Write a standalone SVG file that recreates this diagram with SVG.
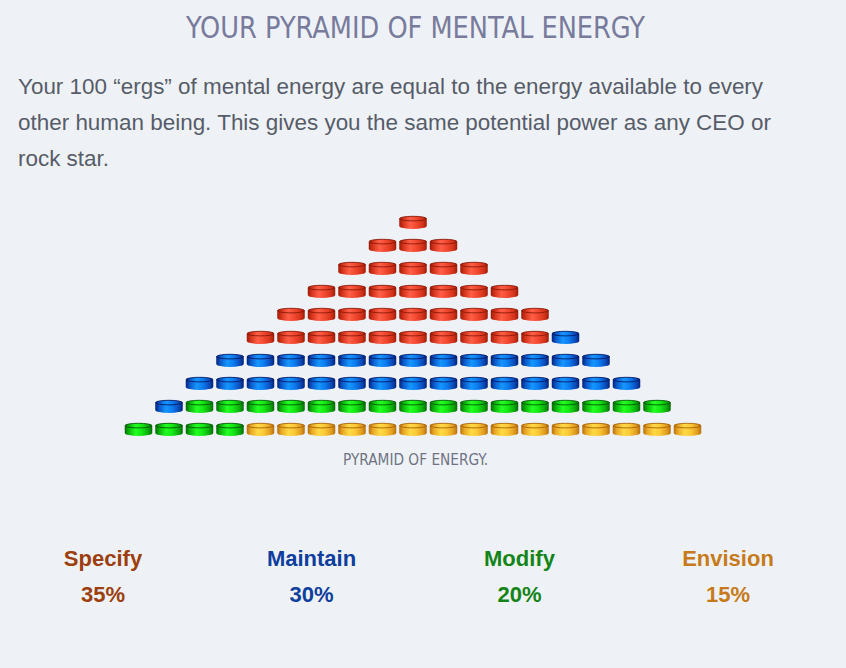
<svg xmlns="http://www.w3.org/2000/svg" width="846" height="668" viewBox="0 0 846 668">
<style>
.title{font-family:"Liberation Sans Narrow","DejaVu Sans Condensed","Liberation Sans",sans-serif;font-size:31px;fill:#787b9b}
.para{font-family:"Liberation Sans",Arial,sans-serif;font-size:22.45px;fill:#575c69}
.cap{font-family:"Liberation Sans Narrow","DejaVu Sans Condensed","Liberation Sans",sans-serif;font-size:16px;fill:#6f7283}
.lbl{font-family:"Liberation Sans",Arial,sans-serif;font-size:22px;font-weight:bold;text-anchor:middle}
</style>
<defs>
<linearGradient id="gR" x1="0" x2="1" y1="0" y2="0">
<stop offset="0" stop-color="#9c1c08"/><stop offset="0.15" stop-color="#d5341c"/><stop offset="0.4" stop-color="#ff5e48"/><stop offset="0.62" stop-color="#f24830"/><stop offset="0.86" stop-color="#d2321a"/><stop offset="1" stop-color="#9c1c08"/>
</linearGradient>
<linearGradient id="gB" x1="0" x2="1" y1="0" y2="0">
<stop offset="0" stop-color="#04207a"/><stop offset="0.15" stop-color="#0a58c8"/><stop offset="0.4" stop-color="#1596ff"/><stop offset="0.62" stop-color="#0c7cf0"/><stop offset="0.86" stop-color="#0a4ab8"/><stop offset="1" stop-color="#04207a"/>
</linearGradient>
<linearGradient id="gG" x1="0" x2="1" y1="0" y2="0">
<stop offset="0" stop-color="#066a06"/><stop offset="0.15" stop-color="#0cb40c"/><stop offset="0.4" stop-color="#22ff22"/><stop offset="0.62" stop-color="#14e814"/><stop offset="0.86" stop-color="#0ca80c"/><stop offset="1" stop-color="#066a06"/>
</linearGradient>
<linearGradient id="gY" x1="0" x2="1" y1="0" y2="0">
<stop offset="0" stop-color="#b86e0c"/><stop offset="0.15" stop-color="#e8a826"/><stop offset="0.4" stop-color="#ffda44"/><stop offset="0.62" stop-color="#fbc836"/><stop offset="0.86" stop-color="#e09c20"/><stop offset="1" stop-color="#b86e0c"/>
</linearGradient>
<g id="cR"><path d="M0,2.6V10A13.75,3 0 0 0 27.5,10V2.6Z" fill="url(#gR)"/><ellipse cx="13.75" cy="2.6" rx="13.5" ry="2.3" fill="url(#gR)" stroke="#8a1a08" stroke-width="0.9"/></g>
<g id="cB"><path d="M0,2.6V10A13.75,3 0 0 0 27.5,10V2.6Z" fill="url(#gB)"/><ellipse cx="13.75" cy="2.6" rx="13.5" ry="2.3" fill="url(#gB)" stroke="#031a66" stroke-width="0.9"/></g>
<g id="cG"><path d="M0,2.6V10A13.75,3 0 0 0 27.5,10V2.6Z" fill="url(#gG)"/><ellipse cx="13.75" cy="2.6" rx="13.5" ry="2.3" fill="url(#gG)" stroke="#055a05" stroke-width="0.9"/></g>
<g id="cY"><path d="M0,2.6V10A13.75,3 0 0 0 27.5,10V2.6Z" fill="url(#gY)"/><ellipse cx="13.75" cy="2.6" rx="13.5" ry="2.3" fill="url(#gY)" stroke="#a8620a" stroke-width="0.9"/></g>
</defs>
<rect width="846" height="668" fill="#eef2f7"/>
<text class="title" x="186" y="38" textLength="459" lengthAdjust="spacingAndGlyphs">YOUR PYRAMID OF MENTAL ENERGY</text>
<g id="intro">
<text class="para" x="18" y="94">Your 100 “ergs” of mental energy are equal to the energy available to every</text>
<text class="para" x="18" y="130">other human being. This gives you the same potential power as any CEO or</text>
<text class="para" x="18" y="166">rock star.</text>
</g>
<g id="coins-specify">
<use href="#cR" x="399.25" y="216"/>
<use href="#cR" x="368.75" y="239"/><use href="#cR" x="399.25" y="239"/><use href="#cR" x="429.75" y="239"/>
<use href="#cR" x="338.25" y="262"/><use href="#cR" x="368.75" y="262"/><use href="#cR" x="399.25" y="262"/><use href="#cR" x="429.75" y="262"/><use href="#cR" x="460.25" y="262"/>
<use href="#cR" x="307.75" y="285"/><use href="#cR" x="338.25" y="285"/><use href="#cR" x="368.75" y="285"/><use href="#cR" x="399.25" y="285"/><use href="#cR" x="429.75" y="285"/><use href="#cR" x="460.25" y="285"/><use href="#cR" x="490.75" y="285"/>
<use href="#cR" x="277.25" y="308"/><use href="#cR" x="307.75" y="308"/><use href="#cR" x="338.25" y="308"/><use href="#cR" x="368.75" y="308"/><use href="#cR" x="399.25" y="308"/><use href="#cR" x="429.75" y="308"/><use href="#cR" x="460.25" y="308"/><use href="#cR" x="490.75" y="308"/><use href="#cR" x="521.25" y="308"/>
<use href="#cR" x="246.75" y="331"/><use href="#cR" x="277.25" y="331"/><use href="#cR" x="307.75" y="331"/><use href="#cR" x="338.25" y="331"/><use href="#cR" x="368.75" y="331"/><use href="#cR" x="399.25" y="331"/><use href="#cR" x="429.75" y="331"/><use href="#cR" x="460.25" y="331"/><use href="#cR" x="490.75" y="331"/><use href="#cR" x="521.25" y="331"/>
</g>
<g id="coins-maintain">
<use href="#cB" x="551.75" y="331"/>
<use href="#cB" x="216.25" y="354"/><use href="#cB" x="246.75" y="354"/><use href="#cB" x="277.25" y="354"/><use href="#cB" x="307.75" y="354"/><use href="#cB" x="338.25" y="354"/><use href="#cB" x="368.75" y="354"/><use href="#cB" x="399.25" y="354"/><use href="#cB" x="429.75" y="354"/><use href="#cB" x="460.25" y="354"/><use href="#cB" x="490.75" y="354"/><use href="#cB" x="521.25" y="354"/><use href="#cB" x="551.75" y="354"/><use href="#cB" x="582.25" y="354"/>
<use href="#cB" x="185.75" y="377"/><use href="#cB" x="216.25" y="377"/><use href="#cB" x="246.75" y="377"/><use href="#cB" x="277.25" y="377"/><use href="#cB" x="307.75" y="377"/><use href="#cB" x="338.25" y="377"/><use href="#cB" x="368.75" y="377"/><use href="#cB" x="399.25" y="377"/><use href="#cB" x="429.75" y="377"/><use href="#cB" x="460.25" y="377"/><use href="#cB" x="490.75" y="377"/><use href="#cB" x="521.25" y="377"/><use href="#cB" x="551.75" y="377"/><use href="#cB" x="582.25" y="377"/><use href="#cB" x="612.75" y="377"/>
<use href="#cB" x="155.25" y="400"/>
</g>
<g id="coins-modify">
<use href="#cG" x="185.75" y="400"/><use href="#cG" x="216.25" y="400"/><use href="#cG" x="246.75" y="400"/><use href="#cG" x="277.25" y="400"/><use href="#cG" x="307.75" y="400"/><use href="#cG" x="338.25" y="400"/><use href="#cG" x="368.75" y="400"/><use href="#cG" x="399.25" y="400"/><use href="#cG" x="429.75" y="400"/><use href="#cG" x="460.25" y="400"/><use href="#cG" x="490.75" y="400"/><use href="#cG" x="521.25" y="400"/><use href="#cG" x="551.75" y="400"/><use href="#cG" x="582.25" y="400"/><use href="#cG" x="612.75" y="400"/><use href="#cG" x="643.25" y="400"/>
<use href="#cG" x="124.75" y="423"/><use href="#cG" x="155.25" y="423"/><use href="#cG" x="185.75" y="423"/><use href="#cG" x="216.25" y="423"/>
</g>
<g id="coins-envision">
<use href="#cY" x="246.75" y="423"/><use href="#cY" x="277.25" y="423"/><use href="#cY" x="307.75" y="423"/><use href="#cY" x="338.25" y="423"/><use href="#cY" x="368.75" y="423"/><use href="#cY" x="399.25" y="423"/><use href="#cY" x="429.75" y="423"/><use href="#cY" x="460.25" y="423"/><use href="#cY" x="490.75" y="423"/><use href="#cY" x="521.25" y="423"/><use href="#cY" x="551.75" y="423"/><use href="#cY" x="582.25" y="423"/><use href="#cY" x="612.75" y="423"/><use href="#cY" x="643.25" y="423"/><use href="#cY" x="673.75" y="423"/>
</g>
<text class="cap" x="343" y="464.5" textLength="145" lengthAdjust="spacingAndGlyphs">PYRAMID OF ENERGY.</text>
<g id="label-specify" fill="#9c3e0e">
<text class="lbl" x="103" y="566">Specify</text>
<text class="lbl" x="103" y="601.5">35%</text>
</g>
<g id="label-maintain" fill="#0e3e9e">
<text class="lbl" x="311.5" y="566">Maintain</text>
<text class="lbl" x="311.5" y="601.5">30%</text>
</g>
<g id="label-modify" fill="#148418">
<text class="lbl" x="519.5" y="566">Modify</text>
<text class="lbl" x="519.5" y="601.5">20%</text>
</g>
<g id="label-envision" fill="#c77a1c">
<text class="lbl" x="728" y="566">Envision</text>
<text class="lbl" x="728" y="601.5">15%</text>
</g>
</svg>
